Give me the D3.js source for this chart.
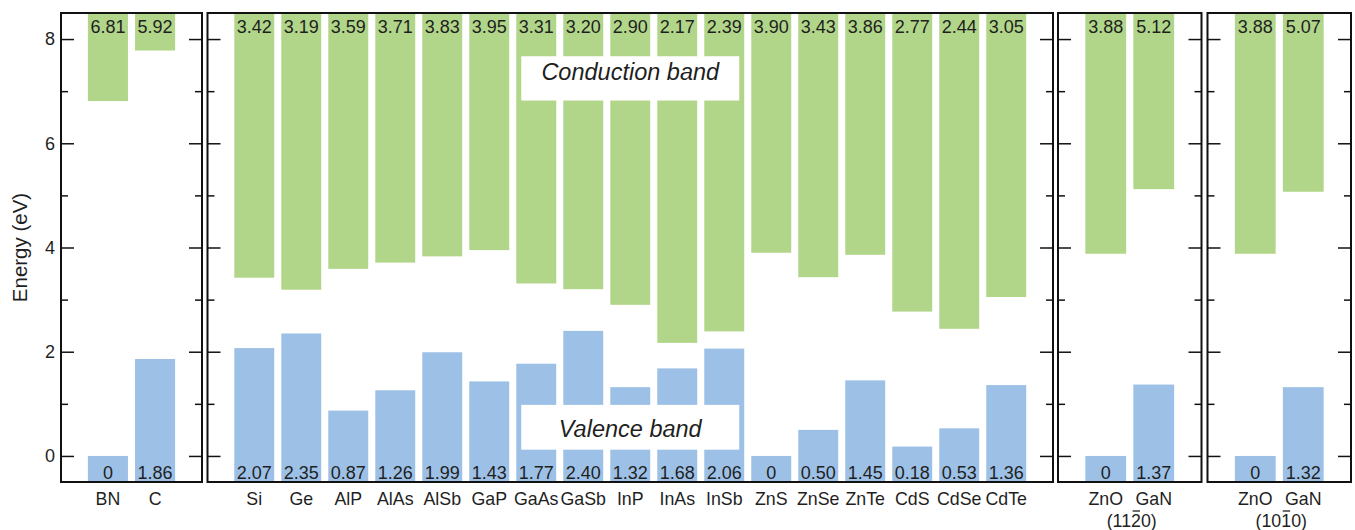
<!DOCTYPE html>
<html>
<head>
<meta charset="utf-8">
<script src="https://cdn.jsdelivr.net/npm/d3@7"></script>
<style>
  html, body { margin: 0; padding: 0; background: #fff; }
  svg { display: block; font-family: "Liberation Sans", Arial, Helvetica, sans-serif; }
</style>
</head>
<body>
<svg id="chart" width="1355" height="530"></svg>
<script>
// Band edges (eV) of each material, grouped by panel.
const materialsA = ["BN", "C"];
const valenceA = [0, 1.86];
const conductionA = [6.81, 5.92];

const materialsB = ["Si", "Ge", "AlP", "AlAs", "AlSb", "GaP", "GaAs", "GaSb", "InP", "InAs",
                    "InSb", "ZnS", "ZnSe", "ZnTe", "CdS", "CdSe", "CdTe"];
const valenceB = [2.07, 2.35, 0.87, 1.26, 1.99, 1.43, 1.77, 2.40, 1.32, 1.68,
                  2.06, 0, 0.50, 1.45, 0.18, 0.53, 1.36];
const conductionB = [3.42, 3.19, 3.59, 3.71, 3.83, 3.95, 3.31, 3.20, 2.90, 2.17,
                     2.39, 3.90, 3.43, 3.86, 2.77, 2.44, 3.05];

const materialsC = ["ZnO", "GaN"];
const valenceC = [0, 1.37];
const conductionC = [3.88, 5.12];

const materialsD = ["ZnO", "GaN"];
const valenceD = [0, 1.32];
const conductionD = [3.88, 5.07];

// Surface orientation printed under the last two panels; the digit at
// barredIndex carries an overbar (Miller–Bravais notation).
const surfaceNotes = ["", "", "(1120)", "(1010)"];
const barredIndex = [null, null, 3, 3];

// Materials whose printed conduction value is the gap above their valence edge.
const gapMeasuredFromValence = new Set(["C"]);

const majorTicks = [0, 2, 4, 6, 8];
const minorTicks = [1, 3, 5, 7];
const yDomain = [-0.5, 8.5];

const panels = [
  { names: materialsA, vb: valenceA, cb: conductionA, x0: 61,    x1: 202 },
  { names: materialsB, vb: valenceB, cb: conductionB, x0: 207.5, x1: 1053 },
  { names: materialsC, vb: valenceC, cb: conductionC, x0: 1058,  x1: 1201.5 },
  { names: materialsD, vb: valenceD, cb: conductionD, x0: 1207.5, x1: 1351 }
];

const green = "#b1d68a";
const blue = "#9dc1e6";
const ink = "#1f1f1f";

const svg = d3.select("#chart");
const y = d3.scaleLinear().domain(yDomain).range([482, 13]);
const fmt = v => v === 0 ? "0" : v.toFixed(2);

panels.forEach((p, pi) => {
  const x = d3.scaleBand().domain(d3.range(p.names.length))
    .range([p.x0, p.x1]).paddingInner(0.15).paddingOuter(0.57);
  const g = svg.append("g");

  const rows = p.names.map((name, i) => {
    const cbEdge = p.cb[i] + (gapMeasuredFromValence.has(name) ? p.vb[i] : 0);
    return { i, name, vb: p.vb[i], cbLabel: p.cb[i], cbEdge };
  });

  // conduction bands: from the band edge up to the top of the frame
  g.selectAll("rect.cb").data(rows).join("rect")
    .attr("class", "cb")
    .attr("x", d => x(d.i)).attr("width", x.bandwidth())
    .attr("y", y(yDomain[1])).attr("height", d => y(d.cbEdge) - y(yDomain[1]))
    .attr("fill", green);

  // valence bands: from the bottom of the frame up to the band edge
  g.selectAll("rect.vb").data(rows).join("rect")
    .attr("class", "vb")
    .attr("x", d => x(d.i)).attr("width", x.bandwidth())
    .attr("y", d => y(d.vb)).attr("height", d => y(yDomain[0]) - y(d.vb))
    .attr("fill", blue);

  g.selectAll("text.cbv").data(rows).join("text")
    .attr("class", "cbv")
    .attr("x", d => x(d.i) + x.bandwidth() / 2).attr("y", y(yDomain[1]) + 20)
    .attr("text-anchor", "middle").attr("font-size", 18).attr("fill", ink)
    .text(d => fmt(d.cbLabel));

  g.selectAll("text.vbv").data(rows).join("text")
    .attr("class", "vbv")
    .attr("x", d => x(d.i) + x.bandwidth() / 2).attr("y", y(yDomain[0]) - 3)
    .attr("text-anchor", "middle").attr("font-size", 18).attr("fill", ink)
    .text(d => fmt(d.vb));

  // material names under the frame
  g.selectAll("text.name").data(rows).join("text")
    .attr("class", "name")
    .attr("x", d => x(d.i) + x.bandwidth() / 2).attr("y", 505)
    .attr("text-anchor", "middle").attr("font-size", 17.8).attr("fill", ink)
    .text(d => d.name);

  if (surfaceNotes[pi]) {
    const cx = (p.x0 + p.x1) / 2 + 2;
    const note = g.append("text")
      .attr("y", 526.5).attr("font-size", 17.8).attr("fill", ink)
      .text(surfaceNotes[pi]);
    const node = note.node();
    const total = node.getComputedTextLength();
    const start = cx - total / 2;
    note.attr("x", start);
    const k = barredIndex[pi];
    if (k != null) {
      const before = k > 0 ? node.getSubStringLength(0, k) : 0;
      const w = node.getSubStringLength(k, 1);
      g.append("line")
        .attr("x1", start + before + 1.5).attr("x2", start + before + w - 1)
        .attr("y1", 511).attr("y2", 511)
        .attr("stroke", ink).attr("stroke-width", 1.3);
    }
  }

  // inward ticks on both sides of the frame
  const left = svg.append("g").attr("transform", `translate(${p.x0},0)`);
  left.call(d3.axisLeft(y).tickValues(majorTicks).tickSizeInner(-13).tickSizeOuter(0)
    .tickPadding(6).tickFormat(pi === 0 ? d3.format("d") : () => ""));
  left.append("g").call(d3.axisLeft(y).tickValues(minorTicks).tickSizeInner(-7)
    .tickSizeOuter(0).tickFormat(() => ""));

  const right = svg.append("g").attr("transform", `translate(${p.x1},0)`);
  right.call(d3.axisRight(y).tickValues(majorTicks).tickSizeInner(-13).tickSizeOuter(0)
    .tickFormat(() => ""));
  right.append("g").call(d3.axisRight(y).tickValues(minorTicks).tickSizeInner(-7)
    .tickSizeOuter(0).tickFormat(() => ""));

  svg.selectAll(".domain").remove();

  g.append("rect")
    .attr("x", p.x0).attr("y", y(yDomain[1]))
    .attr("width", p.x1 - p.x0).attr("height", y(yDomain[0]) - y(yDomain[1]))
    .attr("fill", "none").attr("stroke", "#111").attr("stroke-width", 2);

  if (pi === 1) {
    // band captions in the middle panel
    const cx = (p.x0 + p.x1) / 2;
    const captions = [
      { text: "Conduction band", top: 7.67, bottom: 6.82, base: 80 },
      { text: "Valence band",    top: 0.98, bottom: 0.12, base: 436.5 }
    ];
    captions.forEach(c => {
      g.append("rect")
        .attr("x", cx - 109).attr("width", 218)
        .attr("y", y(c.top)).attr("height", y(c.bottom) - y(c.top))
        .attr("fill", "#fff");
      g.append("text")
        .attr("x", cx).attr("y", c.base)
        .attr("text-anchor", "middle").attr("font-size", 23.5).attr("font-style", "italic")
        .attr("fill", ink).text(c.text);
    });
  }
});

svg.selectAll(".tick line").attr("stroke", "#111").attr("stroke-width", 1.5);
svg.selectAll(".tick text").attr("font-size", 18).attr("fill", ink)
  .attr("font-family", "'Liberation Sans', Arial, sans-serif");

svg.append("text")
  .attr("transform", `translate(27,${y(4)}) rotate(-90)`)
  .attr("text-anchor", "middle").attr("font-size", 20.5).attr("fill", ink)
  .text("Energy (eV)");
</script>
</body>
</html>
